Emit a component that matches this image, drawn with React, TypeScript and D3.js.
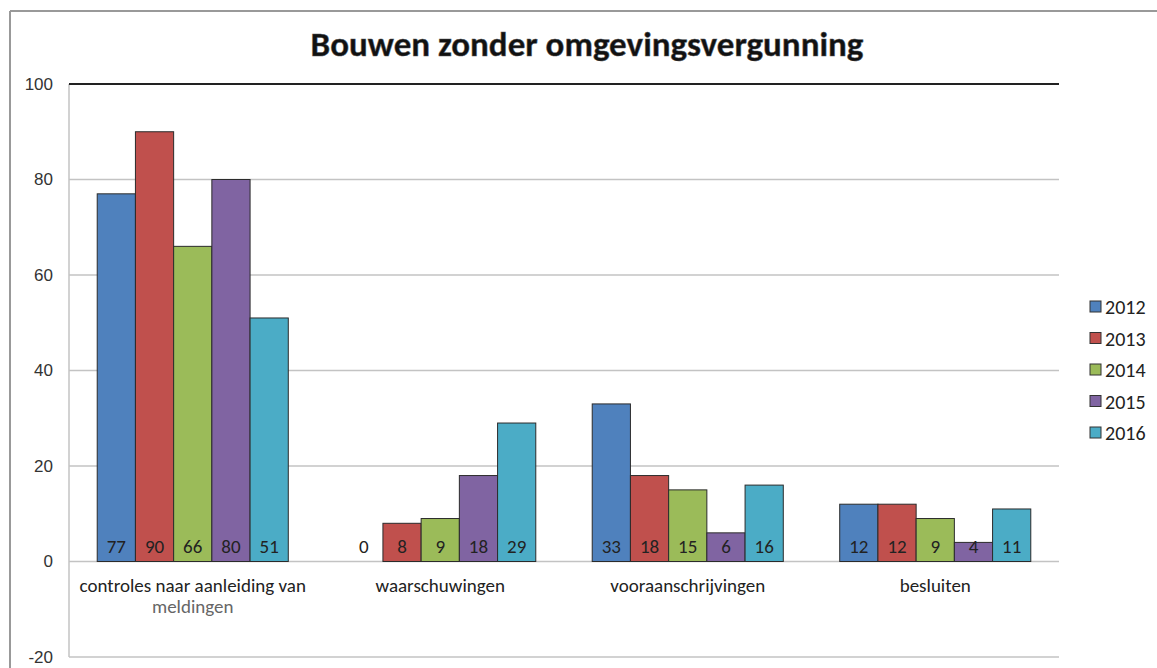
import React from "react";
import * as d3 from "d3";

const categories = ["controles naar aanleiding van meldingen", "waarschuwingen", "vooraanschrijvingen", "besluiten"];
const categoryLines = [["controles naar aanleiding van", "meldingen"], ["waarschuwingen"], ["vooraanschrijvingen"], ["besluiten"]];
const years = ["2012", "2013", "2014", "2015", "2016"];
const v2012 = [77, 0, 33, 12];
const v2013 = [90, 8, 18, 12];
const v2014 = [66, 9, 15, 9];
const v2015 = [80, 18, 6, 4];
const v2016 = [51, 29, 16, 11];
const seriesValues = [v2012, v2013, v2014, v2015, v2016];
const colors = ["#4F81BD", "#C0504D", "#9BBB59", "#8064A2", "#4BACC6"];
const yTicks = [-20, 0, 20, 40, 60, 80, 100];

const W = 1157, H = 668;
const plot = { left: 69, right: 1059, top: 84, bottom: 657 };
const font = "Carlito, Calibri, 'Open Sans', 'Noto Sans', sans-serif";

export default function App() {
  const x = d3.scaleBand<string>().domain(categories).range([plot.left, plot.right]).paddingInner(0.228).paddingOuter(0.114);
  const xs = d3.scaleBand<string>().domain(years).range([0, x.bandwidth()]);
  const y = d3.scaleLinear().domain([-20, 100]).range([plot.bottom, plot.top]);
  const y0 = y(0);
  return (
    <svg width={W} height={H} style={{ position: "absolute", left: 0, top: 0, background: "#fff" }}>
      <rect x={0} y={0} width={W} height={H} fill="#fff" />
      <line x1={10} x2={W} y1={11} y2={11} stroke="#999" strokeWidth={2} />
      <line x1={10} x2={10} y1={11} y2={H} stroke="#999" strokeWidth={2} />
      <text x={587} y={56} textAnchor="middle" fontFamily={font} fontWeight="bold" fontSize={35} fill="#111" stroke="#555" strokeWidth={0.5}>
        Bouwen zonder omgevingsvergunning
      </text>
      {yTicks.map((t) => (
        <g key={t}>
          {t !== 100 && (
            <line x1={plot.left} x2={plot.right} y1={y(t)} y2={y(t)} stroke="#c3c3c3" strokeWidth={1.5} />
          )}
          <text x={53} y={y(t)} dy="0.35em" textAnchor="end" fontFamily="'Liberation Sans', Arial, sans-serif" fontSize={17} fill="#333">
            {t}
          </text>
        </g>
      ))}
      <line x1={plot.left} x2={plot.left} y1={plot.top} y2={plot.bottom} stroke="#c3c3c3" strokeWidth={1.5} />
      <line x1={plot.left} x2={plot.right} y1={plot.top} y2={plot.top} stroke="#222" strokeWidth={2} />
      {categories.map((c, ci) => (
        <g key={c}>
          {years.map((yr, si) => {
            const v = seriesValues[si][ci];
            const bx = (x(c) as number) + (xs(yr) as number);
            const by = y(Math.max(v, 0));
            const bh = Math.abs(y(v) - y0);
            return (
              <g key={yr}>
                {v !== 0 && (
                  <rect x={bx} y={by} width={xs.bandwidth()} height={bh} fill={colors[si]} stroke="#2b2b2b" strokeWidth={1} />
                )}
                <text x={bx + xs.bandwidth() / 2} y={y0 - 9} textAnchor="middle" fontFamily={font} fontSize={19} fill="#222">
                  {v}
                </text>
              </g>
            );
          })}
          {categoryLines[ci].map((line, li) => (
            <text key={li} x={(x(c) as number) + x.bandwidth() / 2} y={y0 + 30 + li * 21} textAnchor="middle" fontFamily={font} fontSize={19} fill={li === 0 ? "#222" : "#666"}>
              {line}
            </text>
          ))}
        </g>
      ))}
      {years.map((yr, i) => (
        <g key={yr} transform={`translate(1090, ${307 + i * 31.5})`}>
          <rect x={0} y={-6} width={11} height={11} fill={colors[i]} stroke="#333" strokeWidth={1} />
          <text x={15} y={0} dy="0.35em" fontFamily={font} fontSize={20} fill="#222">
            {yr}
          </text>
        </g>
      ))}
    </svg>
  );
}
